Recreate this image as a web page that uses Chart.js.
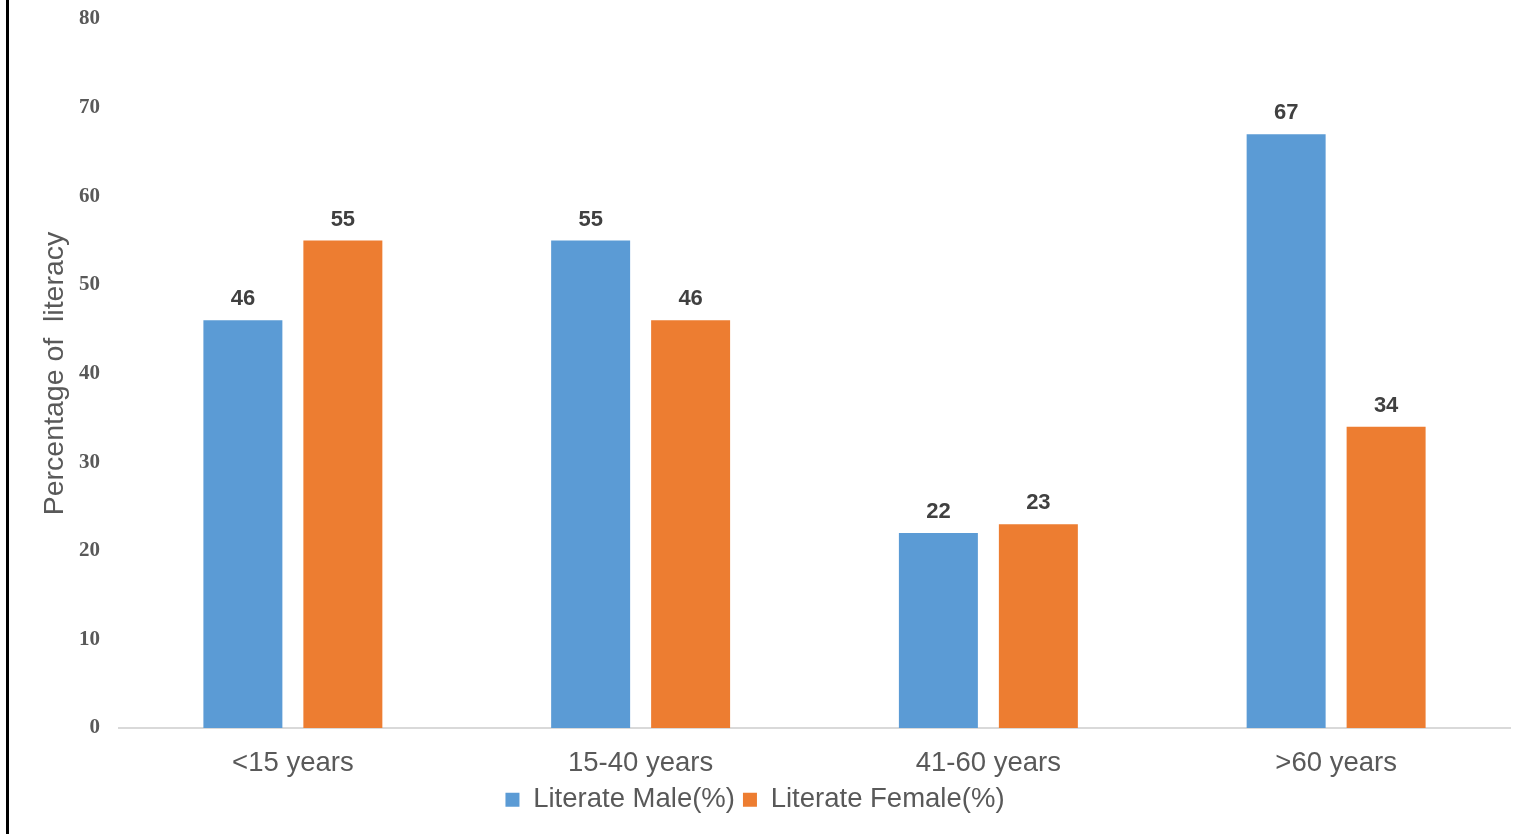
<!DOCTYPE html>
<html>
<head>
<meta charset="utf-8">
<script src="https://cdn.jsdelivr.net/npm/chart.js@4/dist/chart.umd.min.js"></script>
<style>
  html, body { margin: 0; padding: 0; background: #fff; }
  #wrap { position: relative; width: 1520px; height: 834px; }
  #edge { position: absolute; left: 6px; top: 0; width: 3px; height: 834px; background: #000; }
</style>
</head>
<body>
<div id="wrap">
  <canvas id="literacy-chart" width="1520" height="834"></canvas>
  <div id="edge"></div>
</div>
<script>
const ageGroups = ['<15 years', '15-40 years', '41-60 years', '>60 years'];
const maleLiterate = [46, 55, 22, 67];
const femaleLiterate = [55, 46, 23, 34];
const yTicks = [0, 10, 20, 30, 40, 50, 60, 70, 80];

// Value labels above each bar
const barValueLabels = {
    id: 'barValueLabels',
    afterDatasetsDraw(chart) {
        const ctx = chart.ctx;
        ctx.save();
        ctx.font = "bold 22px 'Liberation Sans', Arial, sans-serif";
        ctx.fillStyle = '#404040';
        ctx.textAlign = 'center';
        ctx.textBaseline = 'middle';
        chart.data.datasets.forEach((ds, i) => {
            chart.getDatasetMeta(i).data.forEach((bar, j) => {
                ctx.fillText(ds.data[j], bar.x, bar.y - 21);
            });
        });
        ctx.restore();
    }
};

const ctx = document.getElementById('literacy-chart').getContext('2d');
new Chart(ctx, {
    type: 'bar',
    data: {
        labels: ageGroups,
        datasets: [
            {
                label: 'Literate Male(%)',
                data: maleLiterate,
                backgroundColor: '#5B9BD5',
                categoryPercentage: 0.575,
                barPercentage: 0.79
            },
            {
                label: 'Literate Female(%)',
                data: femaleLiterate,
                backgroundColor: '#ED7D31',
                categoryPercentage: 0.575,
                barPercentage: 0.79
            }
        ]
    },
    options: {
        responsive: false,
        animation: false,
        layout: {
            padding: { top: 19, right: 10, left: 0, bottom: 10.5 }
        },
        plugins: {
            legend: {
                position: 'bottom',
                labels: {
                    boxWidth: 14,
                    boxHeight: 14,
                    padding: 8,
                    color: '#595959',
                    font: { family: "'Liberation Sans', Arial, sans-serif", size: 27.5 }
                }
            },
            tooltip: { enabled: false }
        },
        scales: {
            x: {
                afterFit(scale) {
                    scale.height = 50;
                },
                grid: { display: false },
                border: { display: true, color: '#D9D9D9', width: 2 },
                ticks: {
                    color: '#595959',
                    padding: 11,
                    font: { family: "'Liberation Sans', Arial, sans-serif", size: 27.5 }
                }
            },
            y: {
                min: 0,
                max: 80,
                afterBuildTicks(scale) {
                    scale.ticks = yTicks.map(v => ({ value: v }));
                },
                afterFit(scale) {
                    scale.width = 119;
                    scale.paddingTop = 0;
                    scale.paddingBottom = 0;
                },
                grid: { display: false, drawTicks: false },
                border: { display: false },
                ticks: {
                    color: '#595959',
                    padding: 19,
                    font: { family: "'Liberation Serif', 'Times New Roman', serif", size: 21, weight: 'bold' }
                },
                title: {
                    display: true,
                    text: 'Percentage of  literacy',
                    color: '#595959',
                    padding: { top: 38, bottom: 0 },
                    font: { family: "'Liberation Sans', Arial, sans-serif", size: 28.5 }
                }
            }
        }
    },
    plugins: [barValueLabels]
});
</script>
</body>
</html>
